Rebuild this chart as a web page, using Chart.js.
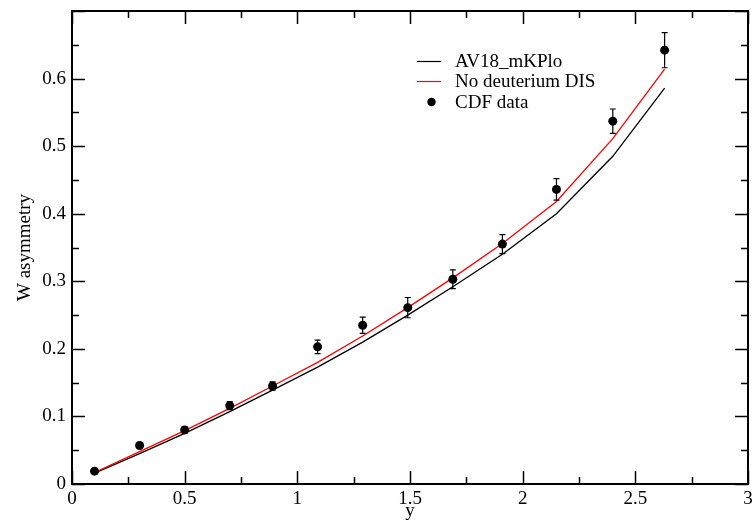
<!DOCTYPE html>
<html>
<head>
<meta charset="utf-8">
<script src="https://cdn.jsdelivr.net/npm/chart.js@4.4.1/dist/chart.umd.min.js"></script>
<style>
  html, body { margin: 0; padding: 0; background: #fff; }
  #wrap { width: 756px; height: 523px; position: relative; }
</style>
</head>
<body>
<div id="wrap"><canvas id="asym"></canvas></div>
<script>
// ─── Data ─────────────────────────────────────────────────────────────────────
const rapidity  = [0.10, 0.30, 0.50, 0.70, 0.89, 1.09, 1.29, 1.49, 1.69, 1.91, 2.15, 2.40, 2.63];
const av18mKPlo = [0.016, 0.045, 0.075, 0.107, 0.139, 0.173, 0.210, 0.250, 0.292, 0.340, 0.400, 0.485, 0.586];
const noDeutDIS = [0.017, 0.048, 0.079, 0.112, 0.145, 0.180, 0.219, 0.261, 0.305, 0.356, 0.418, 0.511, 0.614];
const cdfAsym   = [0.019, 0.057, 0.080, 0.116, 0.145, 0.203, 0.235, 0.261, 0.303, 0.355, 0.436, 0.537, 0.642];
const cdfErr    = [0.002, 0.002, 0.005, 0.006, 0.006, 0.010, 0.012, 0.015, 0.014, 0.014, 0.016, 0.018, 0.026];

const xTicks = [0, 0.5, 1, 1.5, 2, 2.5, 3];
const yTicks = [0, 0.1, 0.2, 0.3, 0.4, 0.5, 0.6, 0.7];
const legendLabels = ['AV18_mKPlo', 'No deuterium DIS', 'CDF data'];

const SERIF = '"Liberation Serif", "DejaVu Serif", serif';
const pts = (ys) => rapidity.map((x, i) => ({ x, y: ys[i] }));

// ─── Frame + inward ticks on all four sides ───────────────────────────────────
const framePlugin = {
  id: 'frame',
  afterDatasetsDraw(chart) {
    const { ctx, chartArea: a, scales: { x, y } } = chart;
    ctx.save();
    ctx.strokeStyle = '#000';
    ctx.lineWidth = 1.5;
    const tick = (x1, y1, x2, y2) => { ctx.beginPath(); ctx.moveTo(x1, y1); ctx.lineTo(x2, y2); ctx.stroke(); };
    for (let v = 0; v <= 3.0001; v += 0.25) {
      const px = Math.round(x.getPixelForValue(v)) + 0.5;
      const len = Math.abs(v * 2 - Math.round(v * 2)) < 1e-6 ? 13 : 7;
      tick(px, a.bottom, px, a.bottom - len);
      tick(px, a.top, px, a.top + len);
    }
    for (let v = 0; v <= 0.7001; v += 0.05) {
      const py = Math.round(y.getPixelForValue(v)) + 0.5;
      const len = Math.abs(v * 10 - Math.round(v * 10)) < 1e-6 ? 13 : 7;
      tick(a.left, py, a.left + len, py);
      tick(a.right, py, a.right - len, py);
    }
    ctx.lineWidth = 2;
    ctx.strokeRect(a.left, a.top, a.right - a.left, a.bottom - a.top);
    ctx.restore();
  }
};

// ─── Error bars on the CDF points ─────────────────────────────────────────────
const errorBarPlugin = {
  id: 'errorBars',
  afterDatasetsDraw(chart) {
    const { ctx, scales: { x, y } } = chart;
    ctx.save();
    ctx.strokeStyle = '#000';
    ctx.lineWidth = 1.2;
    rapidity.forEach((r, i) => {
      const px = x.getPixelForValue(r);
      const hi = y.getPixelForValue(cdfAsym[i] + cdfErr[i]);
      const lo = y.getPixelForValue(cdfAsym[i] - cdfErr[i]);
      ctx.beginPath();
      ctx.moveTo(px, hi); ctx.lineTo(px, lo);
      ctx.moveTo(px - 3, hi); ctx.lineTo(px + 3, hi);
      ctx.moveTo(px - 3, lo); ctx.lineTo(px + 3, lo);
      ctx.stroke();
    });
    ctx.restore();
  }
};

// ─── Legend (inside the plot, upper middle) ───────────────────────────────────
const legendPlugin = {
  id: 'plotLegend',
  afterDraw(chart) {
    const { ctx } = chart;
    ctx.save();
    ctx.font = `19px ${SERIF}`;
    ctx.textBaseline = 'middle';
    ctx.fillStyle = '#000';
    const rows = [61.5, 81.5, 102];
    ctx.lineWidth = 1.2;
    ctx.strokeStyle = '#000';
    ctx.beginPath(); ctx.moveTo(417, rows[0]); ctx.lineTo(441, rows[0]); ctx.stroke();
    ctx.strokeStyle = '#ff0000';
    ctx.beginPath(); ctx.moveTo(417, rows[1]); ctx.lineTo(441, rows[1]); ctx.stroke();
    ctx.beginPath(); ctx.arc(431.5, rows[2], 4.2, 0, Math.PI * 2); ctx.fill();
    legendLabels.forEach((t, i) => ctx.fillText(t, 455, rows[i] + 1));
    ctx.restore();
  }
};

new Chart(document.getElementById('asym'), {
  type: 'scatter',
  data: {
    datasets: [
      { label: legendLabels[0], data: pts(av18mKPlo), showLine: true, borderColor: '#000', borderWidth: 1.3, pointRadius: 0, tension: 0, order: 2 },
      { label: legendLabels[1], data: pts(noDeutDIS), showLine: true, borderColor: '#ff0000', borderWidth: 1.3, pointRadius: 0, tension: 0, order: 1 },
      { label: legendLabels[2], data: pts(cdfAsym), showLine: false, pointRadius: 4.5, backgroundColor: '#000', borderColor: '#000', borderWidth: 0, order: 0 }
    ]
  },
  options: {
    responsive: true, maintainAspectRatio: false, animation: false,
    layout: { padding: { top: 11, right: 8, left: 0, bottom: 0 } },
    plugins: { legend: { display: false }, tooltip: { enabled: false } },
    scales: {
      x: {
        type: 'linear', min: 0, max: 3,
        afterBuildTicks: (s) => { s.ticks = xTicks.map(v => ({ value: v })); },
        afterFit: (s) => { s.height = 39; s.paddingLeft = 0; s.paddingRight = 0; },
        grid: { display: false, drawTicks: false }, border: { display: false },
        ticks: { color: '#000', font: { family: SERIF, size: 19 }, padding: 4, maxRotation: 0,
          callback: (v) => String(v) },
        title: { display: true, text: 'y', color: '#000', font: { family: SERIF, size: 19 }, padding: { top: 0, bottom: 1 } }
      },
      y: {
        type: 'linear', min: 0, max: 0.7,
        afterBuildTicks: (s) => { s.ticks = yTicks.map(v => ({ value: v })); },
        afterFit: (s) => { s.width = 72; s.paddingTop = 0; s.paddingBottom = 0; },
        grid: { display: false, drawTicks: false }, border: { display: false },
        ticks: { color: '#000', font: { family: SERIF, size: 19 }, padding: 6,
          callback: (v) => v >= 0.65 ? '' : String(+v.toFixed(1)) },
        title: { display: true, text: 'W asymmetry', color: '#000', font: { family: SERIF, size: 19 }, padding: { top: 14, bottom: 0 } }
      }
    }
  },
  plugins: [framePlugin, errorBarPlugin, legendPlugin]
});
</script>
</body>
</html>
